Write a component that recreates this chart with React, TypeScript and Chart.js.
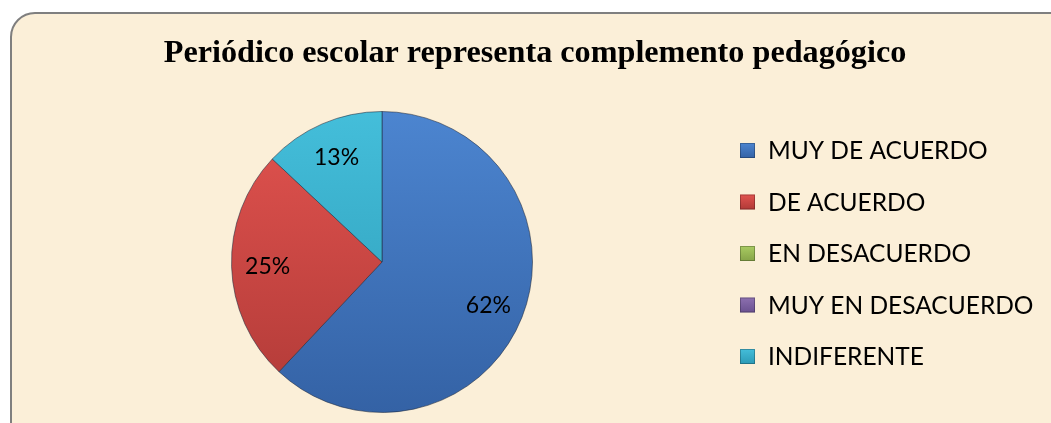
import React, { useEffect, useRef } from "react";
import { Chart, registerables } from "chart.js";

Chart.register(...registerables);

const chartTitle = "Periódico escolar representa complemento pedagógico";
const categories = ["MUY DE ACUERDO", "DE ACUERDO", "EN DESACUERDO", "MUY EN DESACUERDO", "INDIFERENTE"];
const values = [62, 25, 0, 0, 13];
const pctLabels = ["62%", "25%", "", "", "13%"];
const topColors = ["#4C85D0", "#E2534F", "#A9CB62", "#8D70B0", "#44BEDA"];
const bottomColors = ["#3462A5", "#B03A37", "#86A448", "#6A5190", "#2C9AB6"];
const flatColors = ["#4A7DC2", "#C9453F", "#9BBB59", "#8064A2", "#38AECB"];

const W = 1051;
const H = 423;

const frameAndText = {
  id: "frameAndText",
  beforeDraw(chart: any) {
    const ctx = chart.ctx;
    ctx.save();
    ctx.fillStyle = "#ffffff";
    ctx.fillRect(0, 0, W, H);
    const x = 11, y = 13, w = 1100, h = 500, r = 24;
    ctx.beginPath();
    ctx.moveTo(x + r, y);
    ctx.lineTo(x + w, y);
    ctx.lineTo(x + w, y + h);
    ctx.lineTo(x, y + h);
    ctx.lineTo(x, y + r);
    ctx.arcTo(x, y, x + r, y, r);
    ctx.closePath();
    ctx.fillStyle = "#FBEFD8";
    ctx.fill();
    ctx.lineWidth = 2;
    ctx.strokeStyle = "#7f7f7f";
    ctx.stroke();
    // title
    ctx.fillStyle = "#000";
    ctx.font = "bold 32.2px 'Liberation Serif', 'Times New Roman', serif";
    ctx.textAlign = "center";
    ctx.textBaseline = "alphabetic";
    ctx.fillText(chartTitle, 535, 62);
    ctx.restore();
  },
  afterDraw(chart: any) {
    const ctx = chart.ctx;
    ctx.save();
    // percentage labels
    const meta = chart.getDatasetMeta(0);
    ctx.font = "23px Lato, 'Open Sans', sans-serif";
    ctx.fillStyle = "#000";
    ctx.textAlign = "center";
    ctx.textBaseline = "middle";
    meta.data.forEach((arc: any, i: number) => {
      if (!pctLabels[i]) return;
      const p = arc.getProps(["x", "y", "startAngle", "endAngle", "outerRadius"], true);
      const mid = (p.startAngle + p.endAngle) / 2;
      const rr = p.outerRadius * 0.76;
      ctx.fillText(pctLabels[i], p.x + Math.cos(mid) * rr, p.y + Math.sin(mid) * rr + 1);
    });
    // legend
    const lx = 740;
    const ly0 = 150.5;
    const step = 51.5;
    categories.forEach((c, i) => {
      const cy = ly0 + i * step;
      const s = 15;
      const g = ctx.createLinearGradient(0, cy - s / 2, 0, cy + s / 2);
      g.addColorStop(0, topColors[i]);
      g.addColorStop(1, bottomColors[i]);
      ctx.fillStyle = g;
      ctx.fillRect(lx, cy - s / 2, s, s);
      ctx.strokeStyle = "rgba(0,0,0,0.25)";
      ctx.lineWidth = 1;
      ctx.strokeRect(lx + 0.5, cy - s / 2 + 0.5, s - 1, s - 1);
      ctx.fillStyle = "#000";
      ctx.textAlign = "left";
      ctx.font = "24.5px Lato, 'Open Sans', sans-serif";
      ctx.fillText(c, 768, cy + 1);
    });
    ctx.restore();
  },
};

export default function App() {
  const ref = useRef<HTMLCanvasElement | null>(null);
  useEffect(() => {
    if (!ref.current) return;
    const chart = new Chart(ref.current, {
      type: "pie",
      data: {
        labels: categories,
        datasets: [
          {
            data: values,
            backgroundColor: (c: any) => {
              const i = c.dataIndex;
              const area = c.chart.chartArea;
              if (!area) return flatColors[i];
              const g = c.chart.ctx.createLinearGradient(0, area.top, 0, area.bottom);
              g.addColorStop(0, topColors[i]);
              g.addColorStop(1, bottomColors[i]);
              return g;
            },
            borderColor: "rgba(30,40,60,0.55)",
            borderWidth: 1,
          },
        ],
      },
      options: {
        responsive: false,
        animation: false,
        layout: { padding: { top: 111, bottom: 10, left: 231, right: 518 } },
        plugins: {
          legend: { display: false },
          tooltip: { enabled: false },
          title: { display: false },
        },
      },
      plugins: [frameAndText],
    });
    return () => chart.destroy();
  }, []);
  return (
    <div style={{ position: "fixed", left: 0, top: 0, width: W, height: H }}>
      <canvas ref={ref} width={W} height={H} style={{ width: W, height: H, display: "block" }} />
    </div>
  );
}
